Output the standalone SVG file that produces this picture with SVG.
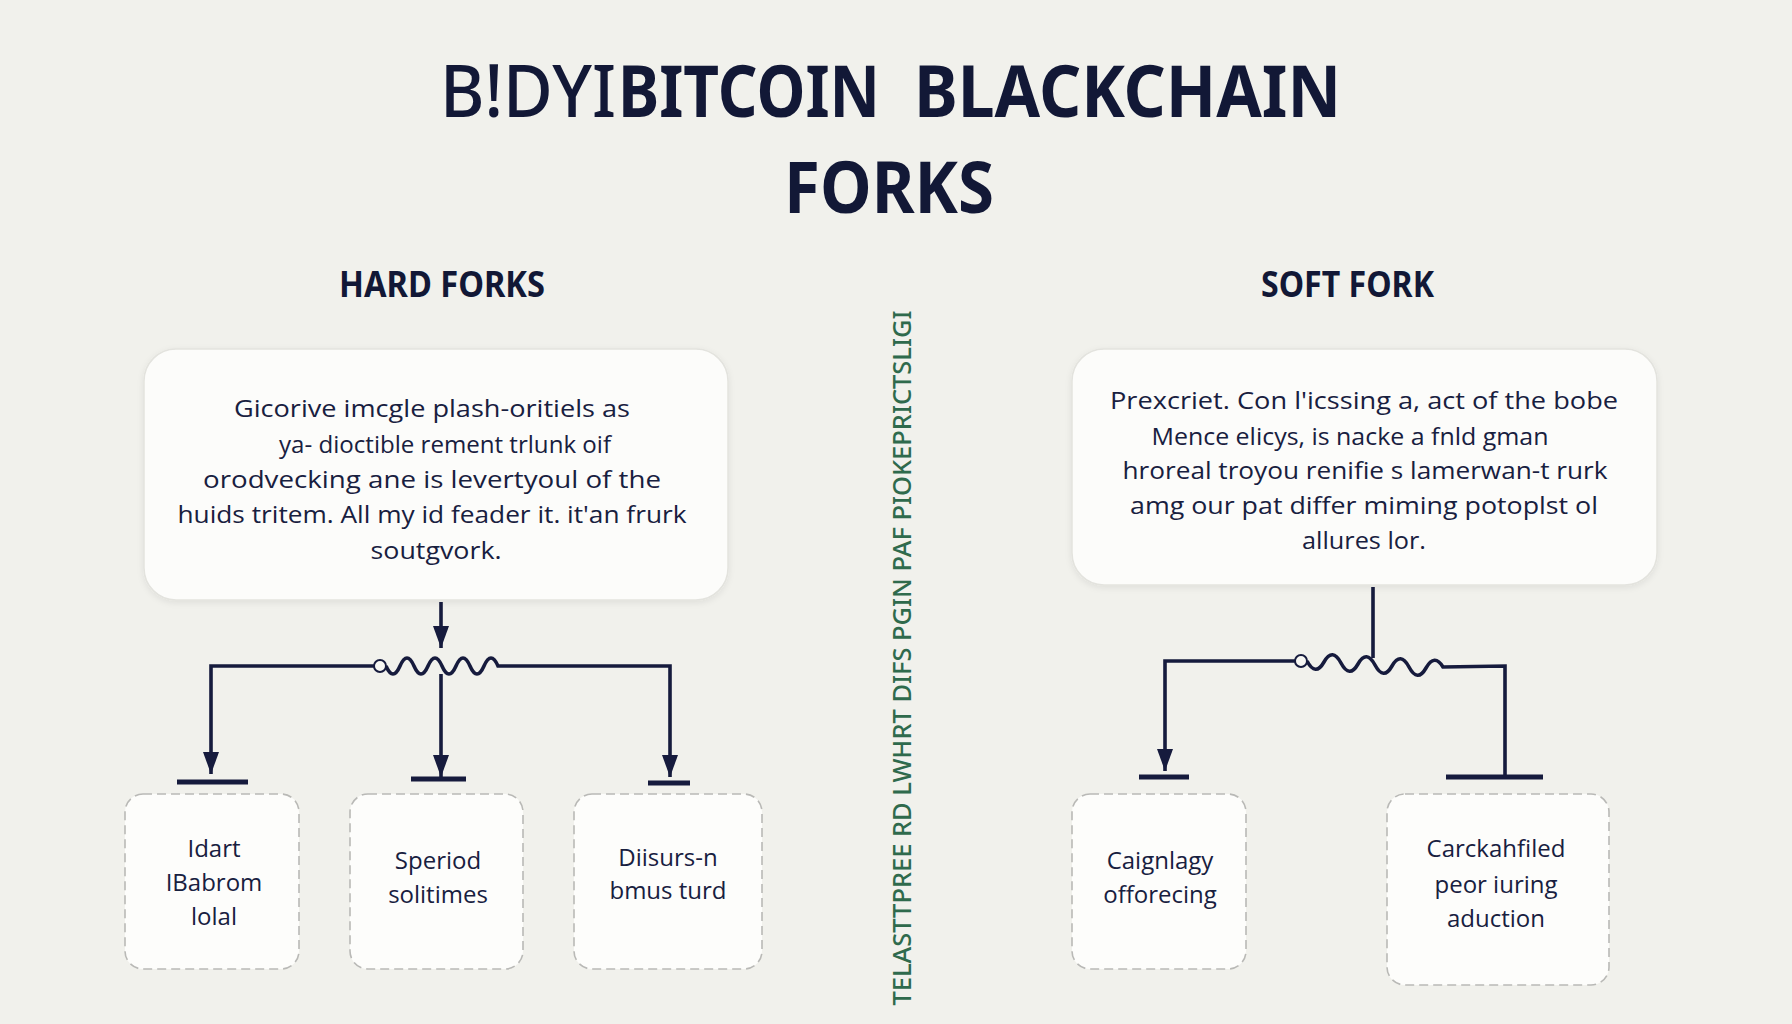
<svg xmlns="http://www.w3.org/2000/svg" width="1792" height="1024" viewBox="0 0 1792 1024">
  <defs>
    <marker id="arrowDown" viewBox="0 0 16 22" refX="8" refY="22" markerWidth="16" markerHeight="22" markerUnits="userSpaceOnUse" orient="0">
      <path d="M0 0 L16 0 L8 22 Z" fill="#161b3d"/>
    </marker>
    <filter id="shadow" x="-5%" y="-5%" width="110%" height="115%">
      <feDropShadow dx="0" dy="2" stdDeviation="3" flood-color="#000" flood-opacity="0.08"/>
    </filter>
  </defs>
  <style>
    .bg { fill: #f1f1ec; }
    .title { font-family: "Noto Sans", "Liberation Sans", sans-serif; font-weight: 700; fill: #121836; font-size: 72px; }
    .title-light { font-weight: 500; }
    .head { font-family: "Noto Sans", "Liberation Sans", sans-serif; font-weight: 700; fill: #121836; font-size: 36px; }
    .body { font-family: "Open Sans", "Noto Sans", sans-serif; font-size: 24px; font-weight: 500; fill: #18203f; text-anchor: middle; }
    .card { fill: #fcfcfa; stroke: #e3e3de; stroke-width: 1.5; }
    .dash { fill: #fdfdfb; stroke: #b9b9b6; stroke-width: 1.6; stroke-dasharray: 9 5; }
    .wire { fill: none; stroke: #161b3d; stroke-width: 3.6; stroke-linejoin: miter; }
    .bar { fill: none; stroke: #161b3d; stroke-width: 5; }
    .vert { font-family: "Noto Sans", "Liberation Sans", sans-serif; font-weight: 500; font-size: 26px; fill: #2f6a4c; }
  </style>
  <rect class="bg" x="0" y="0" width="1792" height="1024"/>

  <g id="title">
    <text class="title title-light" x="440" y="117" textLength="176" lengthAdjust="spacingAndGlyphs">B!DYI</text>
    <text class="title" x="618" y="117" textLength="262" lengthAdjust="spacingAndGlyphs">BITCOIN</text>
    <text class="title" x="914" y="117" textLength="427" lengthAdjust="spacingAndGlyphs">BLACKCHAIN</text>
    <text class="title" x="784" y="213" textLength="210" lengthAdjust="spacingAndGlyphs">FORKS</text>
  </g>

  <g id="hard-forks-header">
    <text class="head" x="339" y="297" textLength="206" lengthAdjust="spacingAndGlyphs">HARD FORKS</text>
  </g>
  <g id="soft-fork-header">
    <text class="head" x="1261" y="297" textLength="173" lengthAdjust="spacingAndGlyphs">SOFT FORK</text>
  </g>

  <g id="divider-text">
    <text class="vert" transform="translate(911 658) rotate(-90)" x="0" y="0" text-anchor="middle" textLength="695" lengthAdjust="spacingAndGlyphs">TELASTTPREE RD LWHRT DIFS PGIN PAF PIOKEPRICTSLIGI</text>
  </g>

  <g id="hard-desc">
    <rect class="card" x="144" y="349" width="584" height="251" rx="32" filter="url(#shadow)"/>
    <text class="body" x="432" y="417" textLength="396" lengthAdjust="spacingAndGlyphs">Gicorive imcgle plash-oritiels as</text>
    <text class="body" x="445" y="453" textLength="332" lengthAdjust="spacingAndGlyphs">ya- dioctible rement trlunk oif</text>
    <text class="body" x="432" y="488" textLength="458" lengthAdjust="spacingAndGlyphs">orodvecking ane is levertyoul of the</text>
    <text class="body" x="432" y="523" textLength="509" lengthAdjust="spacingAndGlyphs">huids tritem. All my id feader it. it'an frurk</text>
    <text class="body" x="436" y="559" textLength="131" lengthAdjust="spacingAndGlyphs">soutgvork.</text>
  </g>

  <g id="soft-desc">
    <rect class="card" x="1072" y="349" width="585" height="236" rx="32" filter="url(#shadow)"/>
    <text class="body" x="1364" y="409" textLength="508" lengthAdjust="spacingAndGlyphs">Prexcriet. Con l'icssing a, act of the bobe</text>
    <text class="body" x="1350" y="445" textLength="397" lengthAdjust="spacingAndGlyphs">Mence elicys, is nacke a fnld gman</text>
    <text class="body" x="1365" y="479" textLength="485" lengthAdjust="spacingAndGlyphs">hroreal troyou renifie s lamerwan-t rurk</text>
    <text class="body" x="1364" y="514" textLength="468" lengthAdjust="spacingAndGlyphs">amg our pat differ miming potoplst ol</text>
    <text class="body" x="1364" y="549" textLength="124" lengthAdjust="spacingAndGlyphs">allures lor.</text>
  </g>

  <g id="hard-1">
    <rect class="dash" x="125" y="794" width="174" height="175" rx="18"/>
    <text class="body" x="214" y="857">Idart</text>
    <text class="body" x="214" y="891">IBabrom</text>
    <text class="body" x="214" y="925">lolal</text>
  </g>
  <g id="hard-2">
    <rect class="dash" x="350" y="794" width="173" height="175" rx="18"/>
    <text class="body" x="438" y="869">Speriod</text>
    <text class="body" x="438" y="903">solitimes</text>
  </g>
  <g id="hard-3">
    <rect class="dash" x="574" y="794" width="188" height="175" rx="18"/>
    <text class="body" x="668" y="866">Diisurs-n</text>
    <text class="body" x="668" y="899">bmus turd</text>
  </g>
  <g id="soft-1">
    <rect class="dash" x="1072" y="794" width="174" height="175" rx="18"/>
    <text class="body" x="1160" y="869">Caignlagy</text>
    <text class="body" x="1160" y="903">offorecing</text>
  </g>
  <g id="soft-2">
    <rect class="dash" x="1387" y="794" width="222" height="191" rx="18"/>
    <text class="body" x="1496" y="857">Carckahfiled</text>
    <text class="body" x="1496" y="893">peor iuring</text>
    <text class="body" x="1496" y="927">aduction</text>
  </g>

  <g id="connectors">
    <!-- hard forks -->
    <path class="wire" d="M441 602 L441 648" marker-end="url(#arrowDown)"/>
    <path class="wire" d="M374 666 L211 666 L211 774" marker-end="url(#arrowDown)"/>
    <path class="wire" d="M386 666 q7 16 14 0 t14 0 t14 0 t14 0 t14 0 t14 0 t14 0 t14 0 L670 666 L670 777" marker-end="url(#arrowDown)"/>
    <path class="wire" d="M441 674 L441 777" marker-end="url(#arrowDown)"/>
    <circle cx="380" cy="666" r="6" fill="#f7f7f3" stroke="#161b3d" stroke-width="2"/>
    <line class="bar" x1="177" y1="782" x2="248" y2="782"/>
    <line class="bar" x1="411" y1="779" x2="466" y2="779"/>
    <line class="bar" x1="648" y1="783" x2="690" y2="783"/>

    <!-- soft fork -->
    <path class="wire" d="M1373 587 L1373 658"/>
    <path class="wire" d="M1295 661 L1165 661 L1165 771" marker-end="url(#arrowDown)"/>
    <path class="wire" d="M1307 661 q8.5 16 17 1 t17 1 t17 1 t17 1 t17 1 t17 1 t17 1 t17 -1 L1505 666 L1505 777"/>
    <circle cx="1301" cy="661" r="6" fill="#f7f7f3" stroke="#161b3d" stroke-width="2"/>
    <line class="bar" x1="1139" y1="777" x2="1189" y2="777"/>
    <line class="bar" x1="1446" y1="777" x2="1543" y2="777"/>
  </g>
</svg>
